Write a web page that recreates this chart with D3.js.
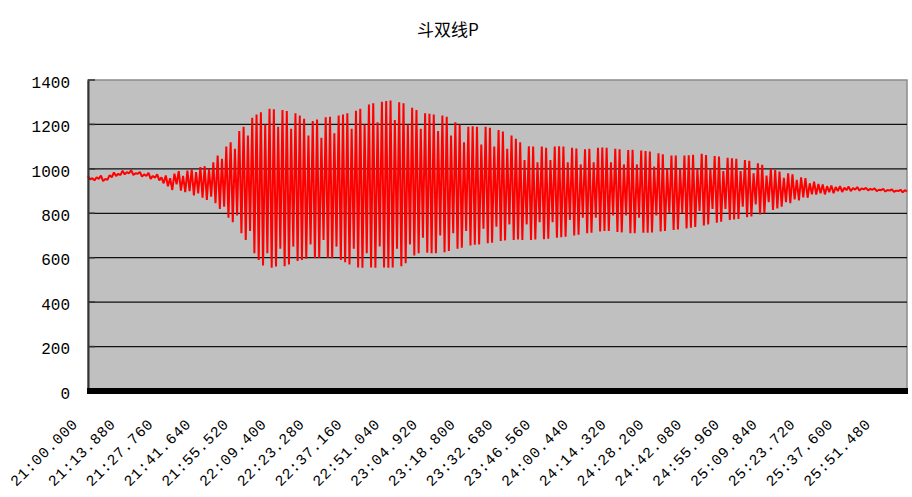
<!DOCTYPE html>
<html>
<head>
<meta charset="utf-8">
<script src="https://cdn.jsdelivr.net/npm/d3@7"></script>
<style>
  html, body { margin: 0; padding: 0; background: #fff; }
  svg { display: block; }
</style>
</head>
<body>
<svg id="chart" width="912" height="497"></svg>
<script>
// Chart title
const title = "斗双线P";

// Time labels along the category axis (mm:ss.sss)
const timeLabels = [
  "21:00.000", "21:13.880", "21:27.760", "21:41.640", "21:55.520", "22:09.400",
  "22:23.280", "22:37.160", "22:51.040", "23:04.920", "23:18.800", "23:32.680",
  "23:46.560", "24:00.440", "24:14.320", "24:28.200", "24:42.080", "24:55.960",
  "25:09.840", "25:23.720", "25:37.600", "25:51.480"
];

// Value axis ticks
const yTicks = [0, 200, 400, 600, 800, 1000, 1200, 1400];

// Recording span in seconds, starting at 21:00.000
const spanSeconds = 301;

// Successive high points of the oscillating signal
const peaks = [
  968, 958, 962, 970, 955, 972, 984, 978, 992, 985,
  994, 980, 986, 975, 982, 968, 975, 962, 970, 958,
  978, 990, 968, 992, 998, 985, 1008, 1012, 1000, 1030,
  1060, 1045, 1100, 1120, 1090, 1170, 1190, 1150, 1230, 1245,
  1255, 1200, 1270, 1268, 1190, 1265, 1260, 1180, 1250, 1240,
  1225, 1150, 1215, 1222, 1140, 1232, 1235, 1160, 1240, 1245,
  1250, 1180, 1262, 1270, 1200, 1290, 1295, 1210, 1302, 1305,
  1308, 1220, 1300, 1295, 1200, 1275, 1265, 1180, 1250, 1248,
  1245, 1170, 1240, 1235, 1150, 1210, 1200, 1120, 1190, 1192,
  1190, 1110, 1190, 1185, 1100, 1175, 1168, 1090, 1150, 1135,
  1120, 1040, 1102, 1100, 1030, 1100, 1095, 1040, 1100, 1102,
  1100, 1030, 1095, 1092, 1020, 1088, 1090, 1030, 1095, 1096,
  1095, 1030, 1090, 1088, 1020, 1085, 1086, 1020, 1083, 1080,
  1078, 1010, 1070, 1066, 1000, 1060, 1060, 1000, 1060, 1061,
  1063, 1000, 1068, 1062, 1000, 1058, 1056, 990, 1050, 1048,
  1045, 990, 1040, 1036, 980, 1025, 1018, 970, 1000, 995,
  988, 960, 980, 975, 950, 962, 958, 935, 942, 932,
  930, 922, 925, 918, 922, 915, 920, 914, 918, 912,
  914, 910, 912, 906, 910, 905, 908, 902, 906, 904
];

// Successive low points of the oscillating signal
const troughs = [
  952, 948, 955, 945, 950, 962, 968, 972, 975, 980,
  972, 978, 965, 968, 955, 960, 948, 935, 922, 905,
  930, 902, 895, 900, 880, 890, 870, 860, 875, 845,
  820, 830, 780, 760, 790, 710, 680, 720, 620, 590,
  565, 620, 555, 560, 640, 562, 570, 650, 585, 590,
  595, 660, 598, 600, 680, 600, 598, 650, 590, 580,
  570, 640, 556, 555, 620, 556, 555, 650, 556, 555,
  556, 640, 562, 575, 660, 610, 620, 690, 622, 620,
  620, 700, 625, 630, 710, 640, 645, 720, 655, 658,
  660, 730, 665, 668, 740, 675, 678, 750, 680, 682,
  680, 750, 680, 682, 760, 683, 685, 760, 690, 692,
  695, 770, 700, 703, 780, 710, 712, 780, 718, 720,
  720, 790, 716, 714, 790, 710, 710, 780, 712, 712,
  714, 790, 718, 720, 800, 725, 727, 800, 732, 735,
  738, 810, 745, 750, 820, 758, 762, 820, 770, 772,
  775, 830, 782, 786, 840, 795, 800, 850, 815, 822,
  830, 850, 845, 862, 858, 872, 870, 885, 884, 890,
  885, 895, 890, 900, 896, 904, 900, 906, 902, 908,
  903, 906, 900, 904, 898, 902, 896, 900, 894, 898
];

const svg = d3.select("#chart");
const W = 912, H = 497;
const margin = { left: 88, right: 5, top: 80, bottom: 106 };
const plotW = W - margin.left - margin.right;
const plotH = H - margin.top - margin.bottom;

// Interleave highs and lows into one sequence of samples
const samples = peaks.flatMap((p, i) => [p, troughs[i]]);
const step = spanSeconds / (samples.length - 1);

const x = d3.scaleLinear().domain([0, spanSeconds]).range([margin.left, margin.left + plotW]);
const y = d3.scaleLinear().domain([0, 1400]).range([margin.top + plotH, margin.top]);

const toSeconds = s => {
  const [m, rest] = s.split(":");
  return (+m - 21) * 60 + (+rest);
};

// Title
svg.append("text")
  .attr("x", 448).attr("y", 36)
  .attr("text-anchor", "middle")
  .attr("font-family", "'Noto Sans CJK SC', sans-serif")
  .attr("font-size", 17)
  .attr("fill", "#000")
  .text(title);

// Plot background
svg.append("rect")
  .attr("x", margin.left).attr("y", margin.top)
  .attr("width", plotW).attr("height", plotH)
  .attr("fill", "#c0c0c0")
  .attr("stroke", "#8c8c8c")
  .attr("stroke-width", 1.5);

// Horizontal gridlines
svg.append("g")
  .selectAll("line")
  .data(yTicks.filter(v => v > 0 && v < 1400))
  .join("line")
  .attr("x1", margin.left).attr("x2", margin.left + plotW)
  .attr("y1", d => y(d)).attr("y2", d => y(d))
  .attr("stroke", "#111").attr("stroke-width", 1.3);

// Signal trace
const line = d3.line()
  .x((d, i) => x(i * step))
  .y(d => y(d));

svg.append("path")
  .datum(samples)
  .attr("d", line)
  .attr("fill", "none")
  .attr("stroke", "#ff0000")
  .attr("stroke-width", 2)
  .attr("stroke-linejoin", "bevel");

// Value axis
const yAxis = svg.append("g")
  .attr("transform", `translate(${margin.left},0)`)
  .call(d3.axisLeft(y).tickValues(yTicks).tickFormat(d3.format("d")).tickSize(0).tickPadding(18));
yAxis.select(".domain").attr("stroke", "#333").attr("stroke-width", 2);
yAxis.selectAll("text")
  .attr("font-family", "'Liberation Mono', monospace")
  .attr("font-size", 16)
  .attr("fill", "#000")
  .attr("dy", "0.45em");

// Short inner tick marks on the value axis
svg.append("g")
  .selectAll("line")
  .data(yTicks)
  .join("line")
  .attr("x1", margin.left).attr("x2", margin.left + 7)
  .attr("y1", d => y(d)).attr("y2", d => y(d))
  .attr("stroke", "#333").attr("stroke-width", 1.5);

// Heavy baseline at zero
svg.append("line")
  .attr("x1", margin.left - 1).attr("x2", margin.left + plotW + 1)
  .attr("y1", y(0)).attr("y2", y(0))
  .attr("stroke", "#000").attr("stroke-width", 6);

// Rotated time labels
svg.append("g")
  .selectAll("text")
  .data(timeLabels)
  .join("text")
  .attr("transform", d => `translate(${x(toSeconds(d)) - 13},421) rotate(-45)`)
  .attr("text-anchor", "end")
  .attr("dy", "0.35em")
  .attr("font-family", "'Liberation Mono', monospace")
  .attr("font-size", 15)
  .attr("letter-spacing", "0.8")
  .attr("fill", "#000")
  .text(d => d);
</script>
</body>
</html>
